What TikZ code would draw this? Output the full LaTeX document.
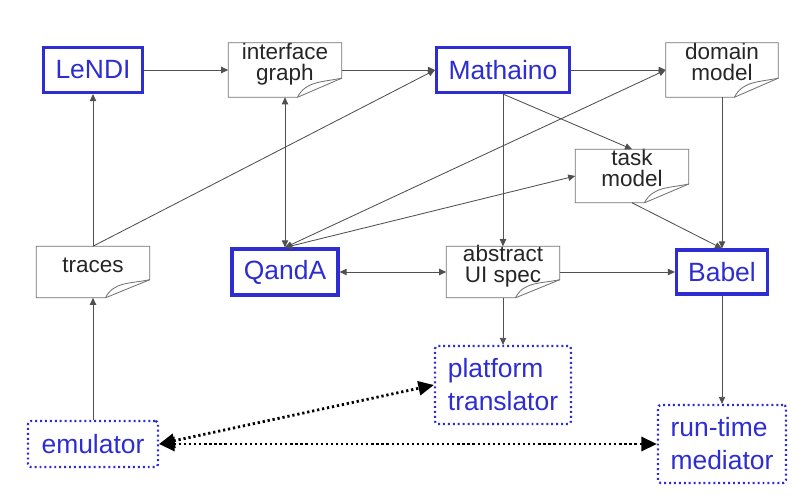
\documentclass[tikz,border=0pt]{standalone}
\usepackage{fontspec}
\setmainfont{Liberation Sans}
\usepackage{xcolor}
\usetikzlibrary{positioning, arrows.meta, calc}
\definecolor{toolblue}{RGB}{45,45,210}
\definecolor{linegray}{RGB}{80,80,80}
\definecolor{pagegray}{RGB}{115,115,115}

\begin{document}
\begin{tikzpicture}[
  tool/.style={rectangle, draw=toolblue, line width=2.2pt, text=toolblue, font=\fontsize{18.8}{22}\selectfont, inner sep=0pt},
  extool/.style={rectangle, draw=toolblue, line width=1.6pt, dash pattern=on 1.4pt off 2.1pt, rounded corners=2pt, text=toolblue, font=\fontsize{18.8}{23.5}\selectfont, align=left, inner sep=0pt},
  note/.style={rectangle, font=\fontsize{16}{15}\selectfont, text=black!85, align=center, inner sep=0pt},
  notedraw/.style={draw=pagegray, line width=0.6pt},
  arr/.style={-{Triangle[length=5pt,width=4.5pt]}, draw=linegray, line width=0.6pt},
  biarr/.style={{Triangle[length=5pt,width=4.5pt]}-{Triangle[length=5pt,width=4.5pt]}, draw=linegray, line width=0.6pt},
  run/.style={{Triangle[length=11pt,width=10pt]}-{Triangle[length=11pt,width=10pt]}, black, line width=2pt, dash pattern=on 1.6pt off 2pt}
]
\fill[white] (0,0) rectangle (20,12.55);
\useasboundingbox (0,0) rectangle (20,12.55);

% --- tools ---
\node[tool, minimum width=2.475cm, minimum height=1.125cm] (lendi) at (2.325, 10.8) {LeNDI};
\node[tool, minimum width=3.325cm, minimum height=1.125cm] (ma) at (12.575, 10.8) {Mathaino};
\node[tool, minimum width=2.65cm, minimum height=1.15cm] (qa) at (7.125, 5.75) {QandA};
\node[tool, minimum width=2.275cm, minimum height=1.1cm] (bb) at (18.05, 5.75) {Babel};

% --- models (pages) ---
\node[note, minimum width=2.825cm, minimum height=1.35cm, text height=0.95cm, text depth=0.4cm] (ig) at (7.125, 10.8) {interface\\graph};
\node[note, minimum width=2.8cm, minimum height=1.35cm, text height=0.95cm, text depth=0.4cm] (dm) at (18.05, 10.8) {domain\\model};
\node[note, minimum width=2.825cm, minimum height=1.325cm, text height=0.925cm, text depth=0.4cm] (tm) at (15.8, 8.15) {task\\model};
\node[note, minimum width=2.825cm, minimum height=1.275cm, text height=0.65cm, text depth=0.625cm] (tr) at (2.325, 5.75) {traces};
\node[note, minimum width=2.825cm, minimum height=1.275cm, text height=0.9cm, text depth=0.375cm] (ui) at (12.575, 5.75) {abstract\\UI spec};

\foreach \n in {ig, dm, tm, tr, ui} {
  \draw[notedraw] (\n.south west) -- (\n.north west) -- (\n.north east)
    -- ($(\n.north east)!0.65!(\n.south east)$) -- ($(\n.south west)!0.61!(\n.south east)$) -- cycle;
  \draw[notedraw] ($(\n.south west)!0.61!(\n.south east)$) .. controls +(0.2,0.4) and +(-0.5,-0.1) .. ($(\n.north east)!0.65!(\n.south east)$);
}

% --- run-time parts ---
\node[extool, minimum width=3.4cm, minimum height=1.95cm] (pt) at (12.575, 2.925) {platform\\translator};
\node[extool, minimum width=3.25cm, minimum height=1.15cm] (em) at (2.325, 1.45) {emulator};
\node[extool, minimum width=3.2cm, minimum height=1.95cm] (rm) at (18.05, 1.45) {run-time\\mediator};

% --- connectors ---
\draw[arr] (lendi) -- (ig);
\draw[arr] (ig) -- (ma);
\draw[arr] (ma) -- (dm);
\draw[arr] (tr) -- (lendi);
\draw[arr] (tr.north) -- (ma.west);
\draw[biarr] (ig) -- (qa);
\draw[biarr] (qa.north) -- (dm.west);
\draw[biarr] (qa.north) -- (tm.west);
\draw[arr] (ma) -- (ui);
\draw[arr] (ma.south) -- (tm.north);
\draw[arr] (dm) -- (bb);
\draw[arr] (tm.south) -- (bb.north);
\draw[biarr] (qa) -- (ui);
\draw[arr] (ui) -- (bb);
\draw[arr] (ui) -- (pt);
\draw[arr] (bb) -- (rm);
\draw[arr] (em) -- (tr);
\draw[run] (em.east) -- (pt.west);
\draw[run] (em.east) -- (rm.west);

\end{tikzpicture}
\end{document}
